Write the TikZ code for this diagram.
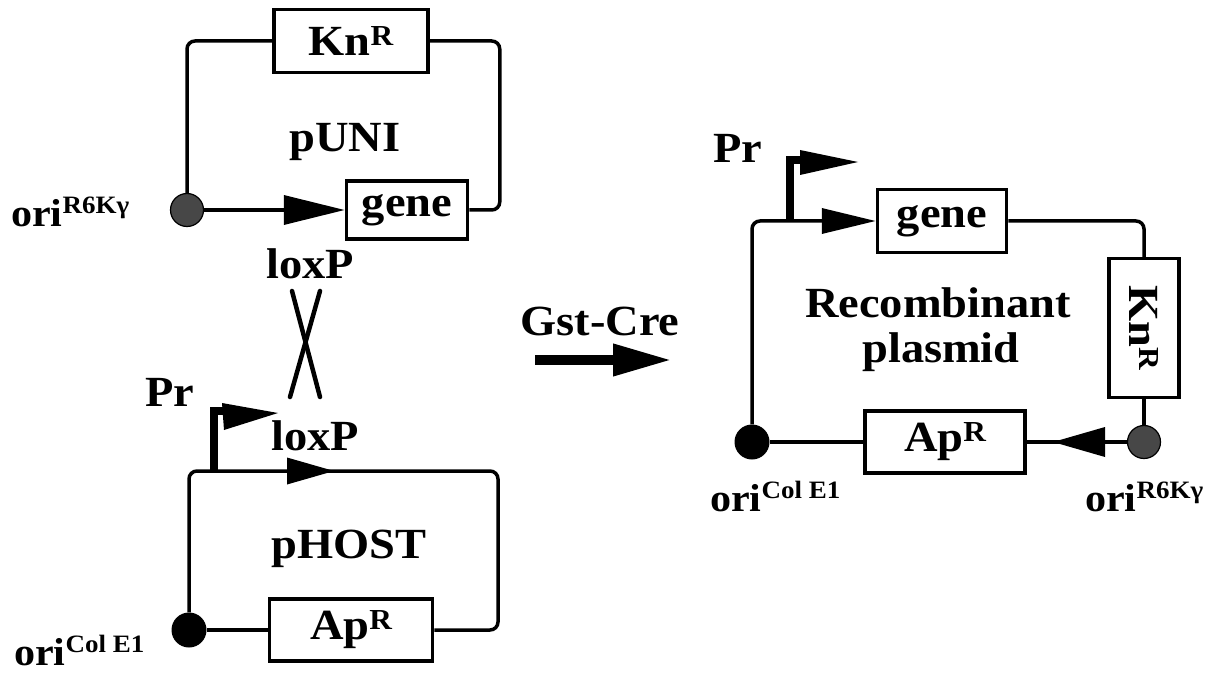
\documentclass[tikz,border=0pt]{standalone}
\usepackage{fontspec}
\setmainfont{Liberation Serif}[FakeStretch=1.08]
\usetikzlibrary{arrows.meta,calc}
\newcommand\supR[1]{\raisebox{10pt}{\fontsize{29}{29}\selectfont #1}}
\newcommand\supO[1]{\raisebox{13pt}{\fontsize{25}{25}\selectfont #1}}
\begin{document}
\begin{tikzpicture}[x=1pt,y=-1pt,
  wire/.style={line width=3.5pt, rounded corners=8pt},
  gbox/.style={draw, line width=3.5pt, fill=white, inner sep=0pt, font=\bfseries\fontsize{43}{46}\selectfont},
  lab/.style={inner sep=0pt, font=\bfseries\fontsize{43}{46}\selectfont},
  prlab/.style={inner sep=0pt, font=\bfseries\fontsize{43}{46}\selectfont},
  small/.style={inner sep=0pt, font=\bfseries\fontsize{39}{40}\selectfont},
  oriblack/.style={circle, fill=black, minimum size=35pt, inner sep=0pt},
  origray/.style={circle, draw=black, line width=1.2pt, fill=black!72, minimum size=33pt, inner sep=0pt},
  prom/.style={line width=8pt},
  cross/.style={line width=4.5pt, line cap=round}
]
\useasboundingbox (0,0) rectangle (1222,676);

% ---------- pUNI ----------
\node[gbox, minimum width=154pt, minimum height=63pt] (knA) at (351,41) {Kn\supR{R}};
\node[gbox, minimum width=121pt, minimum height=58pt] (geneA) at (407,210) {gene};
\node[origray] (oriA) at (187,210) {};
\draw[wire] (oriA.north) |- (knA.west);
\draw[wire] (knA.east) -- ++(70,0) |- (geneA.east);
\draw[wire, -{Triangle[length=61pt,width=29pt]}] (oriA.east) -- (geneA.west);
\node[lab, anchor=base] (punilab) at (345,152) {pUNI};
\node[small, anchor=base west] (oriAlab) at (11,226) {ori\supO{R6Kγ}};
\node[lab, anchor=base] (loxA) at (310,278) {loxP};

% ---------- crossover ----------
\coordinate (x1a) at (292,291); \coordinate (x1b) at (320,397);
\coordinate (x2a) at (320,291); \coordinate (x2b) at (290,397);
\draw[cross] (x1a) -- (x1b);
\draw[cross] (x2a) -- (x2b);

% ---------- pHOST ----------
\node[gbox, minimum width=163pt, minimum height=62pt] (apB) at (351,630) {Ap\supR{R}};
\node[oriblack] (oriB) at (189,630) {};
\coordinate (trB) at (498,471);
\coordinate (prB) at (214,471);
\coordinate (loxBt) at (334,471);
\draw[wire] (oriB.north) |- (trB) |- (apB.east);
\draw[wire] (oriB.east) -- (apB.west);
\fill (loxBt) -- ++(-47,-13.5) -- ++(0,27) -- cycle;
\draw[prom] (prB) -- ++(0,-60) -- ++(9,0);
\fill ($(prB)+(8,-68)$) -- ($(prB)+(64,-58)$) -- ($(prB)+(10,-41)$) -- cycle;
\node[prlab, anchor=base west] (prBlab) at (145,406) {Pr};
\node[lab, anchor=base] (loxB) at (315,450) {loxP};
\node[lab, anchor=base] (phost) at (349,558) {pHOST};
\node[small, anchor=base west] (oriBlab) at (14,665) {ori\supO{Col E1}};

% ---------- Gst-Cre ----------
\node[lab, anchor=base] (gst) at (600,335) {Gst-Cre};
\coordinate (gA) at (535,360); \coordinate (gB) at (672,360);
\draw[line width=10pt, -{Triangle[length=59pt,width=30pt]}] (gA) -- (gB);

% ---------- Recombinant ----------
\node[gbox, minimum width=129pt, minimum height=63pt] (geneC) at (942,221) {gene};
\node[gbox, minimum width=70pt, minimum height=139pt] (knC) at (1144,328) {\rotatebox{-90}{Kn\supR{R}}};
\node[gbox, minimum width=160pt, minimum height=62pt] (apC) at (945,442) {Ap\supR{R}};
\node[oriblack] (oriC1) at (752,442) {};
\node[origray] (oriC2) at (1144,442) {};
\coordinate (prC) at (790,221);
\coordinate (ltip) at (1053,442);
\draw[wire, -{Triangle[length=54pt,width=25pt]}] (oriC1.north) |- (geneC.west);
\draw[wire] (geneC.east) -| (knC.north);
\draw[wire] (knC.south) -- (oriC2.north);
\draw[wire] (oriC2.west) -- (apC.east);
\draw[wire] (oriC1.east) -- (apC.west);
\fill (ltip) -- ++(52,-15) -- ++(0,30) -- cycle;
\draw[prom] (prC) -- ++(0,-61) -- ++(10,0);
\fill ($(prC)+(10,-71)$) -- ($(prC)+(68,-59)$) -- ($(prC)+(10,-46)$) -- cycle;
\node[prlab, anchor=base west] (prClab) at (713,163) {Pr};
\node[lab, anchor=base] (rec1) at (938,317) {Recombinant};
\node[lab, anchor=base] (rec2) at (941,362) {plasmid};
\node[small, anchor=base west] (oriC1lab) at (710,511) {ori\supO{Col E1}};
\node[small, anchor=base west] (oriC2lab) at (1085,511) {ori\supO{R6Kγ}};
\end{tikzpicture}
\end{document}
